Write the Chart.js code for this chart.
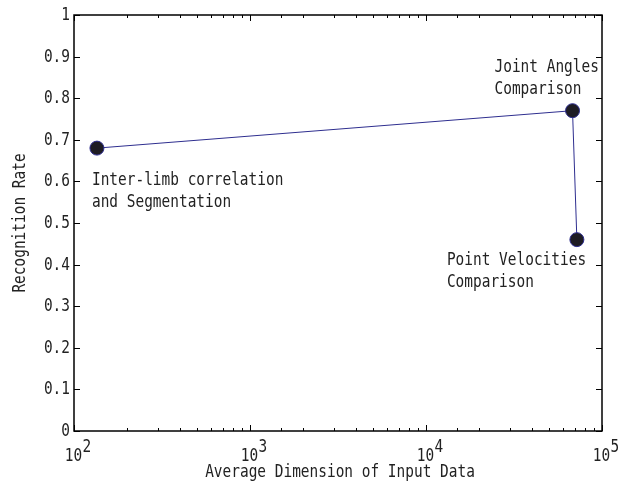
<!DOCTYPE html>
<html>
<head>
<meta charset="utf-8">
<script src="https://cdn.jsdelivr.net/npm/chart.js@4.4.1/dist/chart.umd.min.js"></script>
<style>
  body { margin: 0; background: #fff; }
</style>
</head>
<body>
<canvas id="mycanvas" width="623" height="487"></canvas>
<script>
// data
var dims = [135, 68000, 72000];
var rates = [0.68, 0.77, 0.46];
var pointNotes = [
  ["Inter-limb correlation", "and Segmentation"],
  ["Joint Angles", "Comparison"],
  ["Point Velocities", "Comparison"]
];
// where each note sits relative to its point (px)
var noteOffsets = [[-5, 32], [-78, -43], [-130, 21]];
var yTicks = [0, 0.1, 0.2, 0.3, 0.4, 0.5, 0.6, 0.7, 0.8, 0.9, 1];
var xTitle = "Average Dimension of Input Data";
var yTitle = "Recognition Rate";

var FONT = '17px "DejaVu Sans Mono", monospace';
var SQUEEZE = 0.85;   // narrow tall glyphs like the original
var INK = '#222';

var pts = [];
for (var i in dims) {
  pts.push({ x: dims[i], y: rates[i] });
}

// text drawn a bit condensed horizontally
function txt(c, s, x, y, align) {
  c.save();
  c.translate(x, y);
  c.scale(SQUEEZE, 1);
  c.textAlign = align;
  c.fillText(s, 0, 0);
  c.restore();
}

var framePlugin = {
  id: 'frame',
  afterDraw: function(chart) {
    var c = chart.ctx, a = chart.chartArea;
    var xs = chart.scales.x, ys = chart.scales.y;
    c.save();
    c.strokeStyle = '#000';
    c.lineWidth = 1.5;
    c.strokeRect(a.left, a.top, a.right - a.left, a.bottom - a.top);

    c.fillStyle = INK;
    c.font = FONT;

    // inward ticks on x (bottom + top)
    c.lineWidth = 1;
    xs.ticks.forEach(function(t) {
      var px = Math.round(xs.getPixelForValue(t.value)) + 0.5;
      var lg = Math.log10(t.value);
      var major = Math.abs(lg - Math.round(lg)) < 1e-9;
      var len = major ? 6 : 3;
      c.beginPath();
      c.moveTo(px, a.bottom); c.lineTo(px, a.bottom - len);
      c.moveTo(px, a.top); c.lineTo(px, a.top + len);
      c.stroke();
      if (major) {
        c.textBaseline = 'alphabetic';
        txt(c, '10', px - 1, a.bottom + 30, 'center');
        txt(c, String(Math.round(lg)), px + 8, a.bottom + 21, 'left');
      }
    });

    // inward ticks on y (left + right) and labels
    c.textBaseline = 'middle';
    yTicks.forEach(function(v) {
      var py = Math.round(ys.getPixelForValue(v)) + 0.5;
      c.beginPath();
      c.moveTo(a.left, py); c.lineTo(a.left + 6, py);
      c.moveTo(a.right, py); c.lineTo(a.right - 6, py);
      c.stroke();
      txt(c, String(v), a.left - 4, py, 'right');
    });

    // axis titles
    txt(c, xTitle, (a.left + a.right) / 2 + 2, a.bottom + 42, 'center');
    c.save();
    c.translate(21, (a.top + a.bottom) / 2);
    c.rotate(-Math.PI / 2);
    txt(c, yTitle, 0, 0, 'center');
    c.restore();

    // point notes
    var meta = chart.getDatasetMeta(0);
    meta.data.forEach(function(el, k) {
      var lines = pointNotes[k];
      for (var j = 0; j < lines.length; j++) {
        txt(c, lines[j], el.x + noteOffsets[k][0], el.y + noteOffsets[k][1] + j * 22, 'left');
      }
    });
    c.restore();
  }
};

var ctx = document.getElementById('mycanvas');
var chart = new Chart(ctx, {
  type: 'scatter',
  data: {
    datasets: [{
      data: pts,
      showLine: true,
      borderColor: '#2e2e8f',
      borderWidth: 1,
      pointRadius: 7,
      pointBackgroundColor: '#1e1c24',
      pointBorderColor: '#2e2e8f',
      pointBorderWidth: 1
    }]
  },
  options: {
    responsive: false,
    animation: false,
    layout: { padding: { top: 15, right: 21, left: 0, bottom: 0 } },
    plugins: { legend: { display: false }, tooltip: { enabled: false } },
    scales: {
      x: {
        type: 'logarithmic',
        min: 100,
        max: 100000,
        grid: { display: false },
        border: { display: false },
        ticks: { display: false },
        afterFit: function(s) { s.height = 56; }
      },
      y: {
        min: 0,
        max: 1,
        grid: { display: false },
        border: { display: false },
        ticks: { display: false, stepSize: 0.1 },
        afterFit: function(s) { s.width = 74; }
      }
    }
  },
  plugins: [framePlugin]
});
</script>
</body>
</html>
